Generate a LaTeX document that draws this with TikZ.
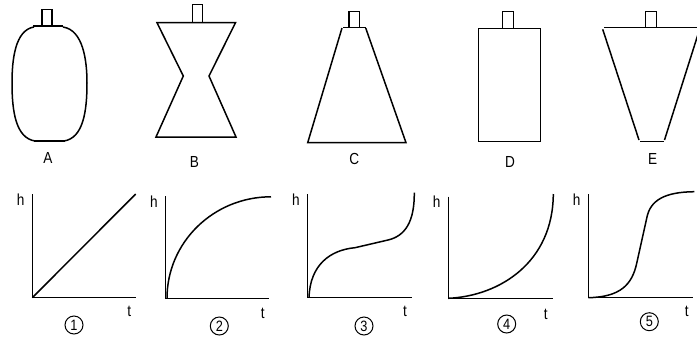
\documentclass[tikz,border=0pt]{standalone}
\usepackage{fontspec}
\setmainfont{Liberation Sans}[FakeStretch=0.85]
\begin{document}
\begin{tikzpicture}[x=1pt,y=-1pt,
  ln/.style={line width=1.5pt,line join=miter},
  neck/.style={line width=1.2pt},
  lbl/.style={inner sep=0pt,font=\fontsize{16}{16}\selectfont},
  circ/.style={draw,circle,line width=1pt,minimum size=18pt,inner sep=0pt,font=\fontsize{15}{15}\selectfont}]
\useasboundingbox (0,0) rectangle (697,341);
\clip (0,0) rectangle (697,341);
% Vessel A
\draw[ln] (33,26) -- (63,26);
\draw[ln] (34,141) -- (65,141);
\draw[ln] (34,27) .. controls (15,30) and (12,60) .. (12,83) .. controls (12,112) and (16,138) .. (35,141);
\draw[ln] (63,27) .. controls (83,30) and (87,60) .. (87,83) .. controls (87,112) and (83,138) .. (64,141);
\draw[neck] (42,9.5) rectangle (52,25.5);
\node[lbl] (lA) at (48,158) {A};
% Vessel B
\draw[ln] (157,22.7) -- (235.5,22.7) -- (209,76) -- (236,137) -- (156,137) -- (183.3,76) -- cycle;
\draw[neck] (192.3,4.5) rectangle (202.7,22.5);
\node[lbl] (lB) at (194.3,162) {B};
% Vessel C
\draw[ln] (343,27.3) -- (366,27.3);
\draw[ln] (342,28) -- (307.7,142.7) -- (406,142.7) -- (365.7,28);
\draw[neck] (349,11.7) rectangle (359.3,27.3);
\node[lbl] (lC) at (354.3,159.3) {C};
% Vessel D
\draw[ln] (478.3,28.3) rectangle (540.3,141.7);
\draw[neck] (502.7,11.7) rectangle (513.3,28.3);
\node[lbl] (lD) at (510,162) {D};
% Vessel E
\draw[ln] (604,27.7) -- (700,27.7);
\draw[ln] (602.7,29.3) -- (639,140);
\draw[ln] (640.3,141.3) -- (664.3,141.3);
\draw[ln] (664.5,140) -- (700,28);
\draw[neck] (645.7,11.7) rectangle (656.3,27.7);
\node[lbl] (lE) at (652.7,159.3) {E};
% Graph 1
\draw[ln] (32.3,194) -- (32.3,297.7) -- (135.7,297.7);
\draw[ln] (32.3,297.7) -- (135.7,194);
\node[lbl] (h1) at (20.7,199.3) {h};
\node[lbl] (t1) at (129.3,311) {t};
\node[circ] (c1) at (74,325) {1};
% Graph 2
\draw[ln] (165.7,196) -- (165.7,298.3) -- (269.3,298.3);
\draw[ln] (167,298.3) arc[start angle=180,end angle=270,x radius=104,y radius=101.5];
\node[lbl] (h2) at (154,201.7) {h};
\node[lbl] (t2) at (262.7,313.3) {t};
\node[circ] (c2) at (219.3,326) {2};
% Graph 3
\draw[ln] (307.7,194) -- (307.7,297.7) -- (411.7,297.7);
\draw[ln] (309,297.7) .. controls (310,265) and (330,250) .. (355,247.7) -- (388,240) .. controls (405,236) and (414.5,222) .. (414.3,192.7);
\node[lbl] (h3) at (296,199.3) {h};
\node[lbl] (t3) at (405,311.7) {t};
\node[circ] (c3) at (364,326) {3};
% Graph 4
\draw[ln] (448.3,196.7) -- (448.3,298.3) -- (552.7,298.3);
\draw[ln] (448.3,298.3) .. controls (500,296) and (553,262) .. (553.3,194);
\node[lbl] (h4) at (436.7,201.7) {h};
\node[lbl] (t4) at (545.7,314) {t};
\node[circ] (c4) at (506.7,324) {4};
% Graph 5
\draw[ln] (588.3,194) -- (588.3,297.7) -- (693.3,297.7);
\draw[ln] (588.3,297.7) .. controls (620,297) and (632,285) .. (636.7,263.3) -- (646.7,218.3) .. controls (650,200) and (665,192) .. (694.3,191.7);
\node[lbl] (h5) at (576.7,199.3) {h};
\node[lbl] (t5) at (686.7,311.7) {t};
\node[circ] (c5) at (649.3,321.7) {5};
\end{tikzpicture}
\end{document}
